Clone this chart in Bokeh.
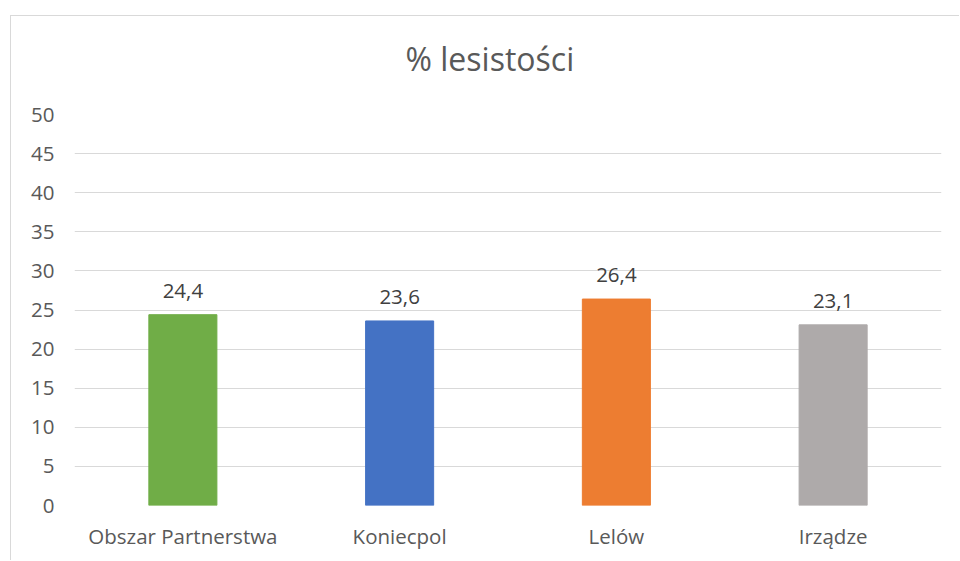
from bokeh.plotting import figure
from bokeh.models import FactorRange, Range1d, FixedTicker, ColumnDataSource, Title
from bokeh.core.properties import value
from bokeh.embed import file_html
from bokeh.resources import INLINE

categories = ["Obszar Partnerstwa", "Koniecpol", "Lelów", "Irządze"]
values = [24.4, 23.6, 26.4, 23.1]
colors = ["#70AD47", "#4472C4", "#ED7D31", "#AEAAAA"]
y_ticks = [0, 5, 10, 15, 20, 25, 30, 35, 40, 45, 50]
title_text = "% lesistości"

labels = [f"{v:.1f}".replace(".", ",") for v in values]
src = ColumnDataSource(dict(cat=categories, val=values, color=colors, label=labels))

FONT = "Open Sans"

p = figure(
    x_range=FactorRange(*categories, range_padding=0),
    y_range=Range1d(0, 50),
    width=949, height=545,
    output_backend="svg", toolbar_location=None,
    min_border_left=63, min_border_right=19,
    min_border_top=98, min_border_bottom=56,
    styles={"margin-left": "10px", "margin-top": "15px",
            "border-left": "1px solid #d9d9d9", "border-top": "1px solid #d9d9d9"},
)
p.outline_line_color = None
p.background_fill_color = "white"
p.border_fill_color = "white"

# main title (outermost in the "above" panel)
p.title.text = title_text
p.title.align = "left"
p.title.offset = 331
p.title.standoff = 10
p.title.text_font = FONT
p.title.text_font_size = "32px"
p.title.text_font_style = "normal"
p.title.text_color = "#595959"

# blank spacer between title and plot area
spacer = Title(text=" ", text_font_size="10px", standoff=17)
p.add_layout(spacer, "above")

p.vbar(x="cat", top="val", width=0.314, color="color", source=src)
p.text(x="cat", y="val", text="label", source=src, text_align="center",
       text_baseline="alphabetic", y_offset=-24, text_font=value(FONT),
       text_font_size="20.5px", text_color="#404040")

p.yaxis.ticker = FixedTicker(ticks=y_ticks)
p.ygrid.ticker = FixedTicker(ticks=y_ticks)
p.ygrid.grid_line_color = "#d9d9d9"
p.ygrid.grid_line_width = 1
p.xgrid.grid_line_color = None

for ax in (p.xaxis, p.yaxis):
    ax.axis_line_color = None
    ax.major_tick_line_color = None
    ax.minor_tick_line_color = None
    ax.major_label_text_font = FONT
    ax.major_label_text_font_size = "20.5px"
    ax.major_label_text_color = "#595959"
p.yaxis.major_label_standoff = 14
p.xaxis.major_label_standoff = 10

open("out.html", "w").write(file_html(p, INLINE))
